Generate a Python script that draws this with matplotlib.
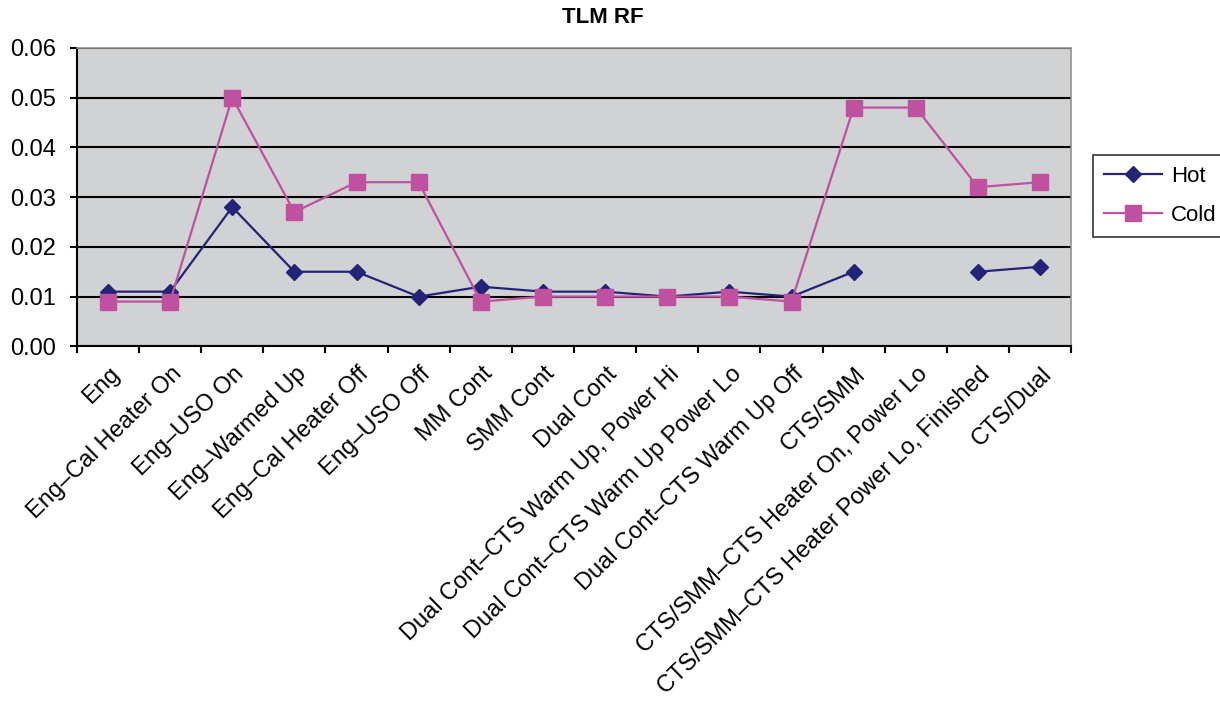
import matplotlib.pyplot as plt
import matplotlib.transforms as mtransforms
import numpy as np

CATEGORIES = [
    "Eng",
    "Eng–Cal Heater On",
    "Eng–USO On",
    "Eng–Warmed Up",
    "Eng–Cal Heater Off",
    "Eng–USO Off",
    "MM Cont",
    "SMM Cont",
    "Dual Cont",
    "Dual Cont–CTS Warm Up, Power Hi",
    "Dual Cont–CTS Warm Up Power Lo",
    "Dual Cont–CTS Warm Up Off",
    "CTS/SMM",
    "CTS/SMM–CTS Heater On, Power Lo",
    "CTS/SMM–CTS Heater Power Lo, Finished",
    "CTS/Dual",
]
HOT = [0.011, 0.011, 0.028, 0.015, 0.015, 0.010, 0.012, 0.011, 0.011,
       0.010, 0.011, 0.010, 0.015, np.nan, 0.015, 0.016]
COLD = [0.009, 0.009, 0.050, 0.027, 0.033, 0.033, 0.009, 0.010, 0.010,
        0.010, 0.010, 0.009, 0.048, 0.048, 0.032, 0.033]

plt.rcParams["font.family"] = ["Liberation Sans", "DejaVu Sans"]

fig = plt.figure(figsize=(12.2, 7.04), dpi=100)
ax = fig.add_axes([0.063, 0.508, 0.815, 0.424])
ax.set_facecolor("#d1d2d4")

x = np.arange(len(CATEGORIES))
ax.plot(x, HOT, color="#232378", marker="D", markersize=8, linewidth=1.6, label="Hot")
ax.plot(x, COLD, color="#c050a0", marker="s", markersize=11, linewidth=1.6, label="Cold")

ax.set_xlim(-0.5, len(CATEGORIES) - 0.5)
ax.set_ylim(0, 0.06)
ax.set_yticks(np.arange(0, 0.061, 0.01))
ax.yaxis.set_major_formatter(plt.FormatStrFormatter("%.2f"))
ax.grid(axis="y", color="black", linewidth=1.5)
ax.set_axisbelow(True)

ax.set_xticks(np.arange(-0.5, len(CATEGORIES)), labels=[])
ax.set_xticks(x, minor=True)
ax.set_xticklabels(CATEGORIES, minor=True, rotation=44.5, ha="right", va="top",
                   rotation_mode="anchor", fontsize=17)
ax.tick_params(axis="x", which="minor", length=0, pad=12)
ax.tick_params(axis="x", which="major", length=5, width=1.5)
ax.tick_params(axis="y", length=5, width=1.5, labelsize=17, pad=10)

shift = mtransforms.ScaledTranslation(1 / 100, 0, fig.dpi_scale_trans)
for lbl in ax.get_xticklabels(minor=True):
    lbl.set_transform(lbl.get_transform() + shift)

for side in ("left", "bottom"):
    ax.spines[side].set_color("black")
    ax.spines[side].set_linewidth(1.5)
for side in ("top", "right"):
    ax.spines[side].set_color("#909090")
    ax.spines[side].set_linewidth(1.2)

fig.text(0.494, 0.975, "TLM RF", ha="center", va="center", fontsize=16, fontweight="bold")

leg = fig.legend(loc="upper left", bbox_to_anchor=(0.896, 0.78), fontsize=16,
                 frameon=True, fancybox=False, edgecolor="black",
                 handlelength=2.6, borderpad=0.5, labelspacing=0.8,
                 handletextpad=0.4, borderaxespad=0)
leg.get_frame().set_linewidth(1.2)

fig.savefig("out.png", dpi=100)
